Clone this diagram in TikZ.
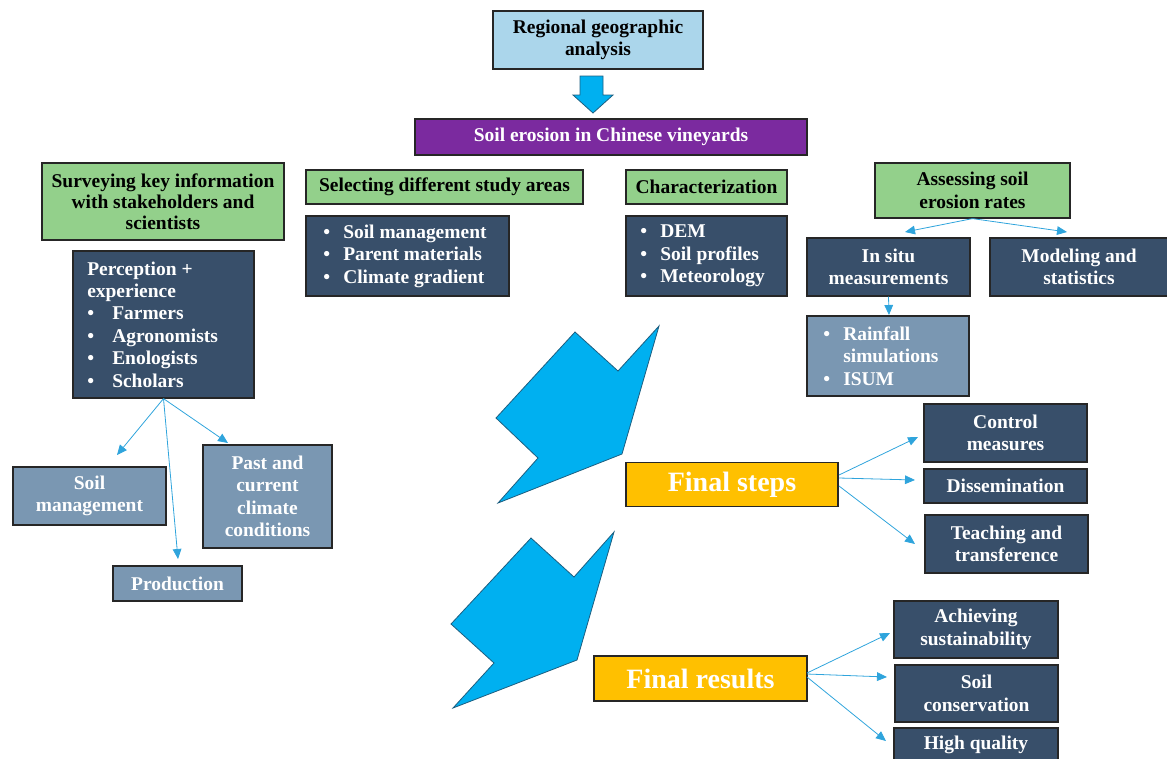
\documentclass[tikz,border=0pt]{standalone}
\usepackage{fontspec}
\setmainfont{Liberation Serif}
\usetikzlibrary{arrows.meta}
\definecolor{lblue}{HTML}{ABD6EB}
\definecolor{purp}{HTML}{7B2A9F}
\definecolor{grn}{HTML}{93D08B}
\definecolor{dark}{HTML}{384F6A}
\definecolor{steel}{HTML}{7A97B2}
\definecolor{orng}{HTML}{FFC000}
\definecolor{bigblue}{HTML}{00B0F0}
\definecolor{bigedge}{HTML}{1D5E80}
\definecolor{connc}{HTML}{2FA4DC}
\newcommand{\bul}{\makebox[15pt][l]{\textbullet}}
\newcommand{\bulw}{\makebox[18.75pt][l]{\textbullet}}
\begin{document}
\begin{tikzpicture}[x=0.75pt,y=-0.75pt,
  font=\bfseries\fontsize{14.6}{16.8}\selectfont,
  sz/.style 2 args={minimum width=#1*0.75pt, minimum height=#2*0.75pt},
  box/.style={draw=black!85, line width=0.9pt, inner sep=0pt, align=center},
  lbbox/.style={box, fill=lblue, text=black},
  purpbox/.style={box, fill=purp, text=white},
  grnbox/.style={box, fill=grn, text=black},
  darkbox/.style={box, fill=dark, text=white},
  steelbox/.style={box, fill=steel, text=white},
  orngbox/.style={box, fill=orng, text=white, font=\bfseries\fontsize{21}{25}\selectfont},
  listtext/.style={text=white, align=left, inner sep=0pt, anchor=west},
  bigarrow/.style={fill=bigblue, draw=bigedge, line width=0.6pt, line join=miter},
  conn/.style={draw=connc, line width=0.6pt, -{Triangle[length=7.5pt,width=6.5pt]}}
]
\useasboundingbox (0,0) rectangle (1167,758);
\clip (0,0) rectangle (1167,758);

% top
\node[lbbox, sz={210}{58}] (rga) at (598,40) {Regional geographic\\analysis};
\draw[bigarrow] (580,76) -- (603,76) -- (603,95) -- (613,95) -- (593,113) -- (573,95) -- (580,95) -- cycle;
\node[purpbox, sz={392}{36}] (soil) at (611,137) {Soil erosion in Chinese vineyards};

% green headers
\node[grnbox, sz={242}{77}, font=\bfseries\fontsize{14.6}{15.9}\selectfont] (survey) at (163,201.5) {Surveying key information\\with stakeholders and\\scientists};
\node[grnbox, sz={277}{34}] (select) at (444.5,187) {Selecting different study areas};
\node[grnbox, sz={161}{34}] (charac) at (706.5,187) {Characterization};
\node[grnbox, sz={195}{55}] (assess) at (972.5,190.5) {Assessing soil\\erosion rates};

% dark lists
\node[darkbox, sz={203}{80}] (slist) at (407.5,256) {};
\node[listtext] (slisttext) at (323,256) {\bul Soil management\\\bul Parent materials\\\bul Climate gradient};
\node[darkbox, sz={161}{80}] (dlist) at (706.5,256) {};
\node[listtext] (dlisttext) at (640,256) {\bul DEM\\\bul Soil profiles\\\bul Meteorology};
\node[darkbox, sz={163}{58}] (insitu) at (888.5,267) {In situ\\measurements};
\node[darkbox, sz={178}{58}] (model) at (1079,267) {Modeling and\\statistics};
\node[steelbox, sz={162}{80}] (rain) at (888,356) {};
\node[listtext] (raintext) at (823,356) {\bul Rainfall\\\hspace{15pt}simulations\\\bul ISUM};

% left branch
\node[darkbox, sz={181}{147}] (perc) at (163.5,324.5) {};
\node[listtext] (perctext) at (87,324.5) {Perception +\\experience\\\bulw Farmers\\\bulw Agronomists\\\bulw Enologists\\\bulw Scholars};
\node[steelbox, sz={153}{58}] (smgmt) at (89.5,496) {Soil\\management};
\node[steelbox, sz={129}{103}] (past) at (267.5,496.5) {Past and\\current\\climate\\conditions};
\node[steelbox, sz={129}{35}] (prod) at (177.5,583.5) {Production};

% big arrows
\draw[bigarrow] (575,332) -- (618,371) -- (659,326) -- (622,454) -- (498,503) -- (538,458) -- (496,418) -- cycle;
\draw[bigarrow] (531,538) -- (574,577) -- (614,532) -- (577,660) -- (453,708) -- (494,663) -- (451,624) -- cycle;

% final steps
\node[orngbox, sz={212}{44}] (fsteps) at (732,484.5) {Final steps};
\node[darkbox, sz={163}{58}] (ctrl) at (1005.5,433) {Control\\measures};
\node[darkbox, sz={163}{34}] (diss) at (1005.5,486) {Dissemination};
\node[darkbox, sz={163}{58}] (teach) at (1006.5,544) {Teaching and\\transference};

% final results
\node[orngbox, sz={213}{45}] (fres) at (700.5,678.5) {Final results};
\node[darkbox, sz={164}{57}] (achv) at (976,629.5) {Achieving\\sustainability};
\node[darkbox, sz={163}{57}] (cons) at (976.5,693.5) {Soil\\conservation};
\node[darkbox, sz={164}{58}] (hq) at (976,757) {};
\node[text=white, inner sep=0pt] (hqtext) at (976,745) {High quality};

% connector ends
\coordinate (a1) at (905,232);
\coordinate (a2) at (1067,232);
\coordinate (a3) at (889,315);
\coordinate (p1) at (117,455);
\coordinate (p2) at (178,559);
\coordinate (p3) at (228,443);
\coordinate (fs0) at (839,475);
\coordinate (fs1) at (839,478);
\coordinate (fs2) at (839,486);
\coordinate (f1) at (918,437);
\coordinate (f2) at (915,480);
\coordinate (f3) at (915,544);
\coordinate (fr0) at (807,673);
\coordinate (fr1) at (807,674);
\coordinate (fr2) at (807,677);
\coordinate (r1) at (890,633);
\coordinate (r2) at (887,677);
\coordinate (r3) at (886,741);

\draw[conn] (assess.south) -- (a1);
\draw[conn] (assess.south) -- (a2);
\draw[conn] (insitu.south) -- (a3);
\draw[conn] (perc.south) -- (p1);
\draw[conn] (perc.south) -- (p2);
\draw[conn] (perc.south) -- (p3);
\draw[conn] (fs0) -- (f1);
\draw[conn] (fs1) -- (f2);
\draw[conn] (fs2) -- (f3);
\draw[conn] (fr0) -- (r1);
\draw[conn] (fr1) -- (r2);
\draw[conn] (fr2) -- (r3);
\end{tikzpicture}
\end{document}
